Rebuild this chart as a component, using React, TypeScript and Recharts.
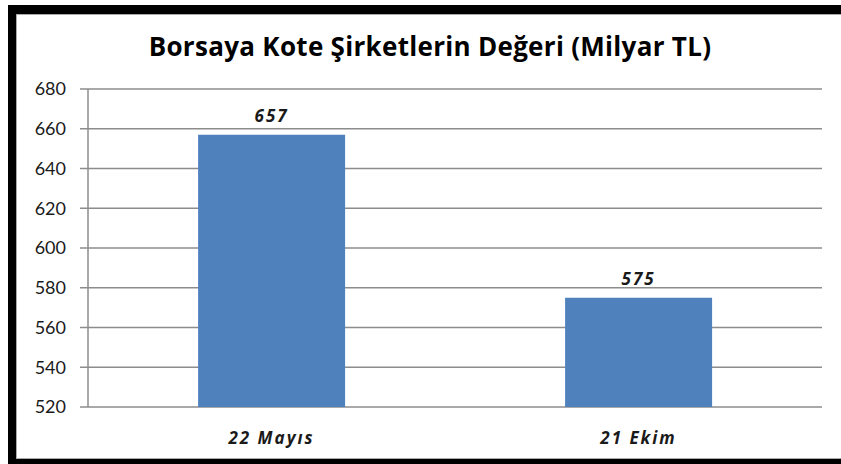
import React from 'react';
import { BarChart, Bar, XAxis, YAxis, CartesianGrid, LabelList } from 'recharts';

const categories = ['22 Mayıs', '21 Ekim'];
const values = [657, 575];
const yTicks = [520, 540, 560, 580, 600, 620, 640, 660, 680];
const boundaryTicks = [0, 1, 2];
const title = 'Borsaya Kote Şirketlerin Değeri (Milyar TL)';

const data = categories.map((c, i) => ({ name: c, value: values[i] }));

const FONT = '"Open Sans", Lato, sans-serif';
const YFONT = 'Lato, "Open Sans", sans-serif';

export default function App() {
  return (
    <div style={{ position: 'absolute', left: 0, top: 0, width: 841, height: 464, overflow: 'hidden', background: '#fff' }}>
      <div style={{ position: 'absolute', left: 8, top: 5, width: 833, height: 9, background: '#000' }} />
      <div style={{ position: 'absolute', left: 8, top: 5, width: 8, height: 459, background: '#000' }} />
      <div style={{ position: 'absolute', left: 8, top: 459, width: 833, height: 5, background: '#000' }} />
      <div style={{ position: 'absolute', left: 16, top: 14, width: 825, height: 1, background: '#aaa' }} />
      <div style={{ position: 'absolute', left: 16, top: 14, width: 1, height: 445, background: '#aaa' }} />
      <div style={{ position: 'absolute', left: 16, top: 458, width: 825, height: 1, background: '#aaa' }} />
      <div
        style={{
          position: 'absolute',
          left: 0,
          width: 860,
          top: 28,
          textAlign: 'center',
          fontFamily: FONT,
          fontWeight: 700,
          fontSize: 26,
          letterSpacing: 0.3,
          lineHeight: '36px',
          color: '#000',
        }}
      >
        {title}
      </div>
      <div style={{ position: 'absolute', left: 0, top: 0 }}>
        <BarChart
          width={841}
          height={464}
          data={data}
          margin={{ top: 89, right: 19, bottom: 22, left: 8 }}
          barCategoryGap="30%"
        >
          <CartesianGrid vertical={false} stroke="#8c8c8c" strokeWidth={1.5} yAxisId="y" xAxisId="cat" />
          <XAxis
            xAxisId="ticks"
            type="number"
            domain={[0, 2]}
            ticks={boundaryTicks}
            allowDataOverflow
            height={0}
            stroke="#8c8c8c"
            strokeWidth={1.5}
            tickSize={7}
            tickFormatter={() => ''}
          />
          <XAxis
            xAxisId="cat"
            dataKey="name"
            height={35}
            axisLine={false}
            tickLine={false}
            tickMargin={19}
            tick={{ fill: '#1a1a1a', fontFamily: FONT, fontStyle: 'italic', fontWeight: 700, fontSize: 17, letterSpacing: 2 }}
          />
          <YAxis
            yAxisId="y"
            width={80}
            domain={[520, 680]}
            ticks={yTicks}
            interval={0}
            stroke="#8c8c8c"
            strokeWidth={1.5}
            tickSize={8}
            tickMargin={14}
            tick={{ fill: '#1a1a1a', fontFamily: YFONT, fontSize: 18 }}
          />
          <Bar dataKey="value" xAxisId="cat" yAxisId="y" fill="#4F81BD" isAnimationActive={false}>
            <LabelList
              dataKey="value"
              position="top"
              offset={13}
              style={{ fill: '#1a1a1a', fontFamily: FONT, fontStyle: 'italic', fontWeight: 700, fontSize: 17, letterSpacing: 2 }}
            />
          </Bar>
        </BarChart>
      </div>
    </div>
  );
}
